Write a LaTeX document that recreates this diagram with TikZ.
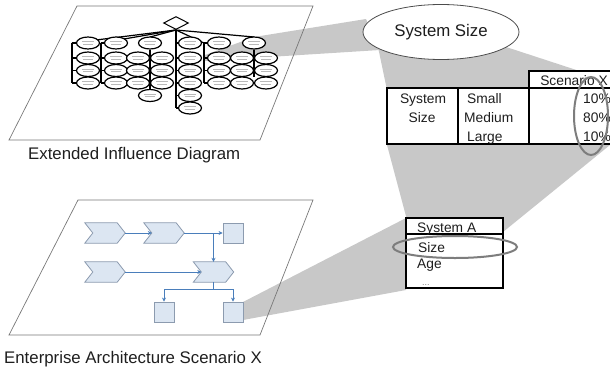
\documentclass[tikz,border=0pt]{standalone}
\usepackage{fontspec}
\setmainfont{Liberation Sans}
\usetikzlibrary{shapes.geometric,calc,arrows.meta}
\definecolor{projgray}{RGB}{200,200,200}
\definecolor{framegray}{RGB}{120,120,120}
\definecolor{chevfill}{RGB}{220,230,242}
\definecolor{chevline}{RGB}{140,155,175}
\definecolor{arrowblue}{RGB}{74,126,187}
\definecolor{ringgray}{RGB}{125,125,125}
\definecolor{txt}{RGB}{30,30,30}
\newcommand\chevshape[1]{\draw[draw=chevline, fill=chevfill, line width=0.8pt] (#1.north west) -- ($(#1.north east)+(-8,0)$) -- (#1.east) -- ($(#1.south east)+(-8,0)$) -- (#1.south west) -- ($(#1.west)+(8,0)$) -- cycle;}
\begin{document}
\begin{tikzpicture}[x=1pt,y=-1pt,
  frame/.style={draw=framegray, line width=0.7pt},
  proj/.style={fill=projgray, draw=none},
  ie/.style={ellipse, draw=black, line width=1.2pt, fill=white, minimum width=23pt, minimum height=12pt, inner sep=0pt,
    path picture={\draw[gray!55,line width=0.9pt] ([xshift=-6pt,yshift=1.4pt]path picture bounding box.center) -- ([xshift=6pt,yshift=1.4pt]path picture bounding box.center);
                  \draw[gray!55,line width=0.9pt] ([xshift=-5pt,yshift=-1.4pt]path picture bounding box.center) -- ([xshift=5pt,yshift=-1.4pt]path picture bounding box.center);}},
  ieline/.style={draw=black, line width=1.2pt},
  lbl/.style={font=\fontsize{16.8}{20}\selectfont, text=txt, inner sep=0pt},
  tbl/.style={font=\fontsize{13.8}{16}\selectfont, text=txt, inner sep=0pt},
  tblbox/.style={draw=black, line width=1.4pt, fill=white},
  ring/.style={draw=ringgray, line width=2pt},
  chevbox/.style={minimum width=40pt, minimum height=20pt, inner sep=0pt},
  sq/.style={draw=chevline, fill=chevfill, line width=0.8pt, minimum size=20pt, inner sep=0pt},
  flow/.style={draw=arrowblue, line width=0.9pt, -{Stealth[length=4pt,width=4pt]}}
]
\useasboundingbox (0,0) rectangle (610,367);
\clip (0,0) rectangle (610,367);

% projection shapes
\fill[proj] (205,55) -- (254,37) -- (366,19) -- (380,50) -- (205,61) -- cycle;
\fill[proj] (378,47) -- (387,90) -- (387,145) -- (407,220) -- (503,232) -- (610,145) -- (610,81) -- (500,45) -- cycle;
\fill[proj] (243,302) -- (406,218) -- (406,290) -- (243,320) -- cycle;

% parallelograms
\draw[frame] (77,6) -- (313,6) -- (260,140) -- (9,140) -- cycle;
\draw[frame] (78,200) -- (313,200) -- (260,335) -- (9,335) -- cycle;

% labels
\node[lbl, anchor=base west] (lab1) at (28,159) {Extended Influence Diagram};
\node[lbl, anchor=base west] (lab2) at (4,363) {Enterprise Architecture Scenario X};

% influence diagram
\node[diamond, draw=black, line width=1pt, fill=white, minimum width=25pt, minimum height=13pt, inner sep=0pt] (dia) at (176,23) {};
\coordinate (h1) at (72,43);
\coordinate (h2) at (101,43);
\coordinate (h4) at (176,43);
\coordinate (h5) at (204,43);
% hub lines
\draw[ieline] (dia.south) -- (h1);
\draw[ieline] (dia.south) -- (h2);
\draw[ieline] (dia.south) -- (150,37);
\draw[ieline] (dia.south) -- (h4);
\draw[ieline] (dia.south) -- (h5);
\draw[ieline] (dia.south) -- (254,37);
% column 1
\foreach \y [count=\i] in {43,58,70.5,83} \node[ie] (a\i) at (88,\y) {};
\draw[ieline] (h1) -- (h1 |- a4.west);
\foreach \i in {1,...,4} \draw[ieline] (a\i.west) -- (h1 |- a\i.west);
% column 2
\foreach \y [count=\i] in {43,58,70.5,83} \node[ie] (b\i) at (116,\y) {};
\draw[ieline] (h2) -- (h2 |- b4.west);
\foreach \i in {1,...,4} \draw[ieline] (b\i.west) -- (h2 |- b\i.west);
% column 3
\node[ie] (c0) at (150,43) {};
\node[ie] (c7) at (150,95.5) {};
\draw[ieline] (c0.south) -- (c7.north);
\foreach \y [count=\i] in {58,70.5,83} {
  \node[ie] (cl\i) at (138,\y) {};
  \node[ie] (cr\i) at (162,\y) {};
  \fill (150,\y) circle (1.3pt);
}
% column 4
\node[ie] (d0) at (190,43) {};
\foreach \y [count=\i] in {58,70.5,83,95.5,108} \node[ie] (d\i) at (190,\y) {};
\draw[ieline] (h4) -- (h4 |- d5.west);
\foreach \i in {0,...,5} \draw[ieline] (d\i.west) -- (h4 |- d\i.west);
% column 5
\node[ie] (e0) at (219,43) {};
\foreach \y [count=\i] in {58,70.5,83} \node[ie] (e\i) at (219,\y) {};
\draw[ieline] (h5) -- (h5 |- e3.west);
\foreach \i in {0,...,3} \draw[ieline] (e\i.west) -- (h5 |- e\i.west);
% column 6
\node[ie] (f0) at (254,43) {};
\coordinate (f9) at (254,77);
\draw[ieline] (f0.south) -- (f9);
\foreach \y [count=\i] in {58,70.5,83} {
  \node[ie] (fl\i) at (242,\y) {};
  \node[ie] (fr\i) at (266,\y) {};
}

% enterprise architecture diagram
\node[chevbox] (k1) at (105,233) {};
\node[chevbox] (k2) at (164,233) {};
\node[chevbox] (k3) at (105,272) {};
\node[chevbox] (k4) at (213.5,272) {};
\chevshape{k1}\chevshape{k2}\chevshape{k3}\chevshape{k4}
\node[sq] (s1) at (233,233) {};
\node[sq] (s2) at (164,312) {};
\node[sq] (s3) at (233,312) {};
\draw[flow] (k1.east) -- ($(k2.west)+(8,0)$);
\draw[flow] (k2.east) -- (s1.west);
\draw[flow] (k4.north |- k2.east) -- (k4.north);
\draw[flow] (k3.east) -- ($(k4.west)+(8,0)$);
\coordinate (j1) at ($(k4.south)+(0,7)$);
\draw[arrowblue, line width=0.9pt] (k4.south) -- (j1);
\draw[flow] (j1) -| (s2.north);
\draw[flow] (j1) -| (s3.north);

% System Size node
\node[ellipse, draw=black!70, line width=0.8pt, fill=white, minimum width=156pt, minimum height=55pt, inner sep=0pt, lbl] (ss) at (441,32) {System Size};

% table
\draw[tblbox] (387,88) rectangle (616,144);
\draw[tblbox] (529,71) rectangle (616,88);
\draw[black, line width=1.4pt] (458,88) -- (458,144);
\draw[black, line width=1.4pt] (529,88) -- (529,144);
\node[tbl, anchor=base] (t1) at (423,103) {System};
\node[tbl, anchor=base] (t2) at (422,122) {Size};
\node[tbl, anchor=base west] (t3) at (467,103) {Small};
\node[tbl, anchor=base west] (t4) at (464,122) {Medium};
\node[tbl, anchor=base west] (t5) at (467,141) {Large};
\node[tbl, anchor=base] (t6) at (574,85) {Scenario X};
\node[tbl, anchor=base east] (p1) at (611,103) {10\%};
\node[tbl, anchor=base east] (p2) at (611,122) {80\%};
\node[tbl, anchor=base east] (p3) at (611,141) {10\%};
\node[ellipse, ring, minimum width=34pt, minimum height=78pt, inner sep=0pt] (r1) at (591,116) {};

% System A box
\draw[tblbox] (406,218) rectangle (503,288);
\draw[black, line width=1.4pt] (406,234) -- (503,234);
\node[tbl, anchor=base west] (u1) at (417,232) {System A};
\node[tbl, anchor=base west] (u2) at (418,252) {Size};
\node[tbl, anchor=base west] (u3) at (417,268) {Age};
\node[tbl, anchor=base west, text=gray] (u4) at (422,285) {\fontsize{9}{10}\selectfont ...};
\node[ellipse, ring, minimum width=124pt, minimum height=22pt, inner sep=0pt] (r2) at (455,247) {};
\end{tikzpicture}
\end{document}
